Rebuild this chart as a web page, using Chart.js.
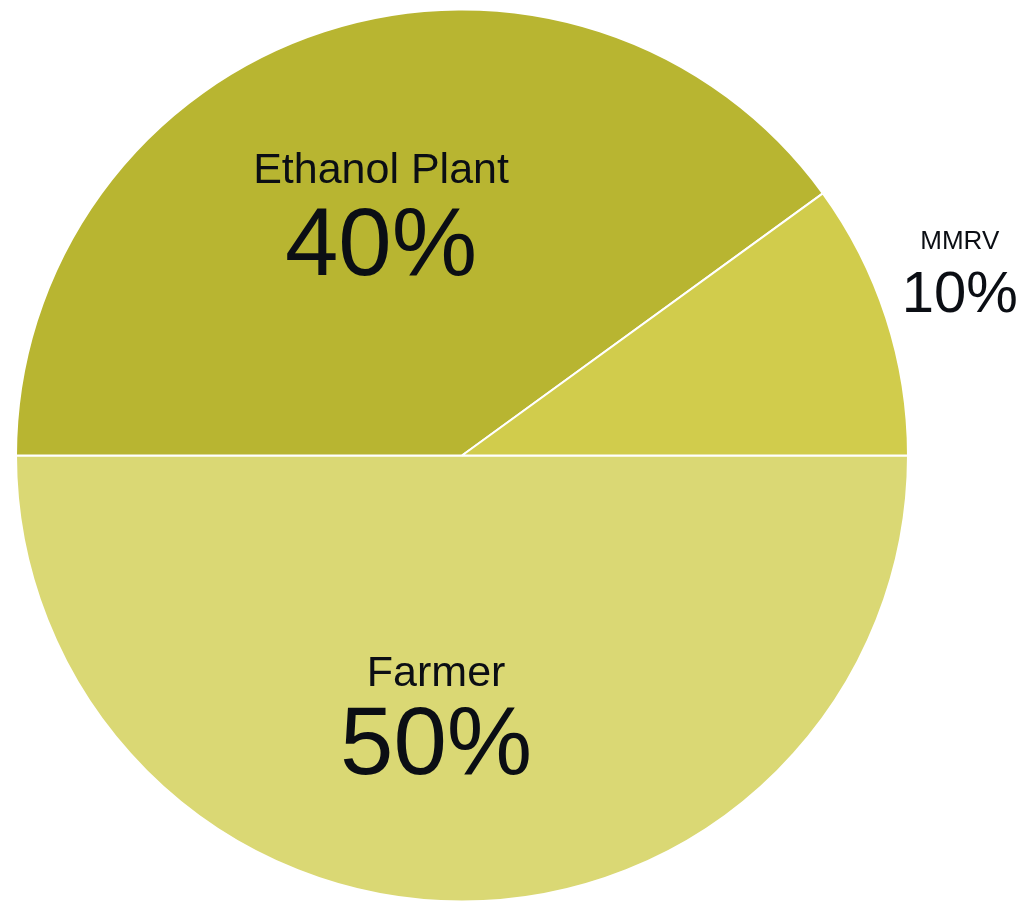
<!DOCTYPE html>
<html>
<head>
<meta charset="utf-8">
<script src="https://cdn.jsdelivr.net/npm/chart.js@4/dist/chart.umd.min.js"></script>
<style>
  html, body { margin: 0; padding: 0; background: #ffffff; }
  #wrap { width: 1022px; height: 901px; position: relative; }
</style>
</head>
<body>
<div id="wrap"><canvas id="c" width="1022" height="901"></canvas></div>
<script>
const categories = ["Farmer", "Ethanol Plant", "MMRV"];
const shares = [50, 40, 10];
const shareLabels = ["50%", "40%", "10%"];
const sliceColors = ["#DAD874", "#B8B531", "#D1CC4C"];

const labelPlugin = {
  id: 'sliceLabels',
  afterDatasetsDraw(chart, args, opts) {
    const ctx = chart.ctx;
    const meta = chart.getDatasetMeta(0);
    meta.data.forEach((arc, i) => {
      const p = opts.placements[i];
      const ang = p.angle * Math.PI / 180;
      const cx = arc.x + Math.cos(ang) * arc.outerRadius * p.r;
      const cy = arc.y + Math.sin(ang) * arc.outerRadius * p.r;
      const capN = 0.716 * p.nameSize, capP = 0.716 * p.pctSize;
      const H = capN + p.gap + capP;
      const top = cy - H / 2;
      ctx.save();
      ctx.fillStyle = '#0b0e14';
      ctx.textAlign = 'center';
      ctx.textBaseline = 'alphabetic';
      ctx.font = p.nameSize + 'px "Liberation Sans", Arial, sans-serif';
      ctx.fillText(chart.data.labels[i], cx, top + capN);
      ctx.font = p.pctSize + 'px "Liberation Sans", Arial, sans-serif';
      ctx.fillText(shareLabels[i], cx, top + capN + p.gap + capP);
      ctx.restore();
    });
  }
};

new Chart(document.getElementById('c'), {
  type: 'pie',
  data: {
    labels: categories,
    datasets: [{
      data: shares,
      backgroundColor: sliceColors,
      borderColor: '#ffffff',
      borderWidth: 2
    }]
  },
  options: {
    responsive: false,
    animation: false,
    rotation: 90,
    radius: 446,
    layout: { padding: { left: 0, right: 98, top: 10, bottom: 0 } },
    plugins: {
      legend: { display: false },
      tooltip: { enabled: false },
      sliceLabels: {
        placements: [
          { angle: 95.7, r: 0.584, nameSize: 43, pctSize: 96, gap: 19 },
          { angle: 251.5, r: 0.572, nameSize: 43, pctSize: 96, gap: 23 },
          { angle: 339.7, r: 1.19, nameSize: 26, pctSize: 58, gap: 22 }
        ]
      }
    }
  },
  plugins: [labelPlugin]
});
</script>
</body>
</html>
